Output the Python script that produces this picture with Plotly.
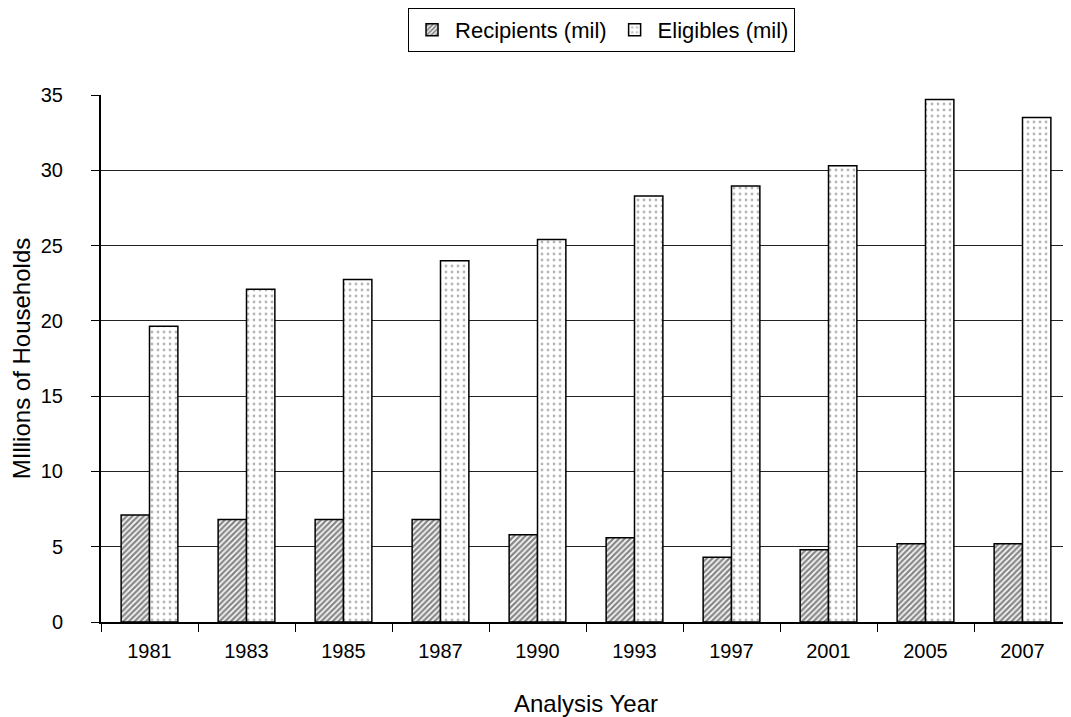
import plotly.graph_objects as go

# Datos
anios = ['1981', '1983', '1985', '1987', '1990', '1993', '1997', '2001', '2005', '2007']
recipients = [7.1, 6.8, 6.8, 6.8, 5.8, 5.6, 4.3, 4.8, 5.2, 5.2]
eligibles = [19.65, 22.1, 22.75, 24.0, 25.4, 28.3, 28.95, 30.3, 34.7, 33.5]

FONT = 'Liberation Sans, Arial, sans-serif'

fig = go.Figure()
fig.add_trace(go.Bar(
    x=anios, y=recipients, name='Recipients (mil)',
    marker=dict(color='white', line=dict(color='black', width=1.5),
                pattern=dict(shape='/', fgcolor='#111111', bgcolor='white',
                             size=4, solidity=0.62))
))
fig.add_trace(go.Bar(
    x=anios, y=eligibles, name='Eligibles (mil)',
    marker=dict(color='white', line=dict(color='black', width=1.5),
                pattern=dict(shape='.', fgcolor='#707070', bgcolor='white',
                             size=6, solidity=0.18))
))

# el html deja ~8px de margen en el body, por eso 1063x709
fig.update_layout(
    width=1063, height=709,
    margin=dict(l=93, r=0, t=87, b=95),
    barmode='group', bargap=0.415, bargroupgap=0,
    plot_bgcolor='white', paper_bgcolor='white',
    font=dict(family=FONT, size=20, color='black'),
    legend=dict(orientation='h', x=0.516, xanchor='center', y=1.0, yref='container',
                yanchor='top', bordercolor='black', borderwidth=1,
                font=dict(size=22), itemwidth=36, traceorder='normal'),
    xaxis=dict(
        title=dict(text='Analysis Year', standoff=38),
        type='category', range=[-0.5, 9.5],
        showline=True, linecolor='black', linewidth=2,
        ticks='outside', ticklen=8, tickcolor='black', tickson='boundaries',
        ticklabelstandoff=10,
        showgrid=False,
    ),
    yaxis=dict(
        title=dict(text='MIllions of Households', standoff=6),
        range=[0, 35], dtick=5,
        showline=True, linecolor='black', linewidth=2,
        ticks='outside', ticklen=8, tickcolor='black',
        ticklabelstandoff=24,
        showgrid=True, gridcolor='#222222', gridwidth=1,
        zeroline=False,
    ),
)

fig.write_html('out.html')
